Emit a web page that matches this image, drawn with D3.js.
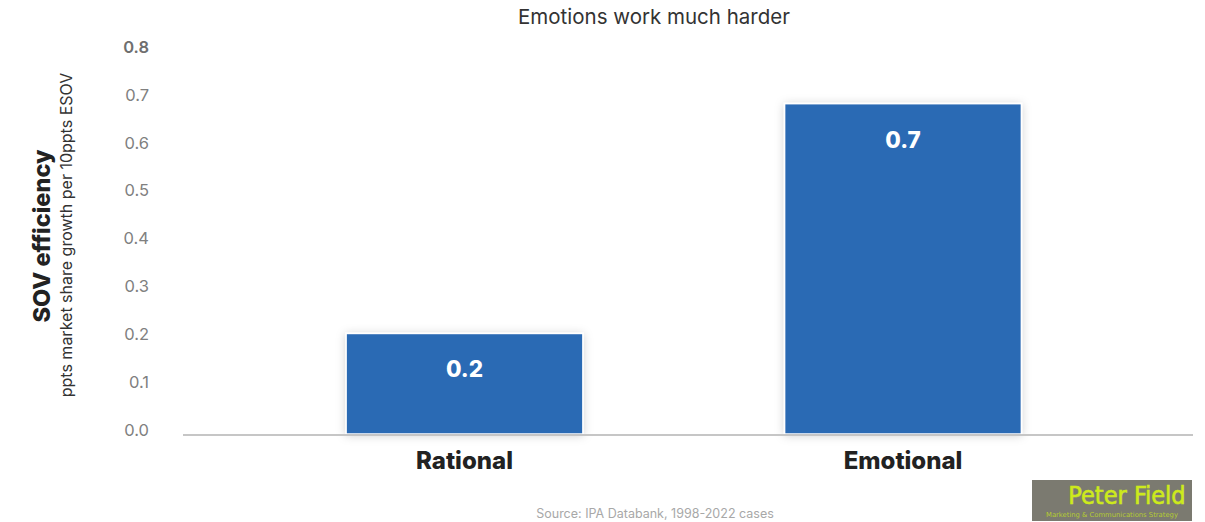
<!DOCTYPE html>
<html>
<head>
<meta charset="utf-8">
<script src="https://cdn.jsdelivr.net/npm/d3@7"></script>
<style>
  html, body { margin: 0; padding: 0; background: #fff; }
  svg { display: block; }
</style>
</head>
<body>
<svg id="chart" width="1205" height="522"></svg>
<script>
// Chart data
const categories = ["Rational", "Emotional"];
const values = [0.21, 0.69];
const yTicks = [0, 0.1, 0.2, 0.3, 0.4, 0.5, 0.6, 0.7, 0.8];

const titleText = "Emotions work much harder";
const yTitle = "SOV efficiency";
const ySubtitle = "ppts market share growth per 10ppts ESOV";
const sourceText = "Source: IPA Databank, 1998-2022 cases";

const svg = d3.select("#chart");
const fontMain = "Inter, 'Open Sans', sans-serif";

// Scales
const y = d3.scaleLinear().domain([0, 0.8]).range([434, 51]);
const x = d3.scaleBand()
  .domain(categories)
  .range([245.25, 1122.25])
  .paddingInner(0.46)
  .paddingOuter(0.23);

// Soft shadow for bars
const defs = svg.append("defs");
const f = defs.append("filter").attr("id", "barShadow")
  .attr("x", "-20%").attr("y", "-20%").attr("width", "140%").attr("height", "140%");
f.append("feDropShadow").attr("dx", 0).attr("dy", 1).attr("stdDeviation", 5)
  .attr("flood-color", "#000").attr("flood-opacity", 0.18);

// Title
svg.append("text")
  .attr("x", 654).attr("y", 24)
  .attr("text-anchor", "middle")
  .attr("font-family", fontMain)
  .attr("font-size", 20.5)
  .attr("fill", "#333")
  .text(titleText);

// Y axis tick labels (no axis line)
const yAxis = d3.axisLeft(y).tickValues(yTicks).tickFormat(d3.format(".1f")).tickSize(0).tickPadding(0);
const gy = svg.append("g").attr("transform", "translate(149,-4)").call(yAxis);
gy.select(".domain").remove();
gy.selectAll("text")
  .attr("font-family", fontMain)
  .attr("font-size", 16.5)
  .attr("fill", "#808080");
gy.selectAll(".tick").filter(d => d === 0.8).select("text")
  .attr("font-weight", 600).attr("fill", "#6f6f6f");

// Y axis titles
svg.append("text")
  .attr("transform", "translate(50,236) rotate(-90)")
  .attr("text-anchor", "middle")
  .attr("font-family", fontMain)
  .attr("font-weight", 800)
  .attr("font-size", 23.5)
  .attr("fill", "#222")
  .text(yTitle);
svg.append("text")
  .attr("transform", "translate(72,235) rotate(-90)")
  .attr("text-anchor", "middle")
  .attr("font-family", fontMain)
  .attr("font-size", 16)
  .attr("fill", "#333")
  .text(ySubtitle);

// Bars
const data = categories.map((c, i) => ({ cat: c, value: values[i] }));
svg.append("g").selectAll("rect")
  .data(data).join("rect")
  .attr("x", d => x(d.cat))
  .attr("y", d => y(d.value))
  .attr("width", x.bandwidth())
  .attr("height", d => y(0) - y(d.value))
  .attr("fill", "#2c6ab4")
  .attr("stroke", "#fff")
  .attr("stroke-width", 1.5)
  .attr("filter", "url(#barShadow)");

// Baseline
svg.append("line")
  .attr("x1", 183).attr("x2", 1193)
  .attr("y1", y(0) + 1).attr("y2", y(0) + 1)
  .attr("stroke", "#c6c6c6").attr("stroke-width", 2);

// Value labels inside bars
svg.append("g").selectAll("text")
  .data(data).join("text")
  .attr("x", d => x(d.cat) + x.bandwidth() / 2)
  .attr("y", d => y(d.value) + 44)
  .attr("text-anchor", "middle")
  .attr("font-family", fontMain)
  .attr("font-weight", 800)
  .attr("font-size", 22.5)
  .attr("fill", "#fff")
  .text(d => d3.format(".1f")(d.value));

// Category labels
const xAxis = d3.axisBottom(x).tickSize(0).tickPadding(0);
const gx = svg.append("g").attr("transform", "translate(0,469)").call(xAxis);
gx.select(".domain").remove();
gx.selectAll("text")
  .attr("dy", 0)
  .attr("font-family", fontMain)
  .attr("font-weight", 800)
  .attr("font-size", 24)
  .attr("fill", "#222");

// Source note
svg.append("text")
  .attr("x", 655).attr("y", 518)
  .attr("text-anchor", "middle")
  .attr("font-family", fontMain)
  .attr("font-size", 12.5)
  .attr("fill", "#a8a8a8")
  .text(sourceText);

// Logo
const logo = svg.append("g").attr("transform", "translate(1032,480)");
logo.append("rect").attr("width", 160).attr("height", 41).attr("fill", "#7b7a70");
logo.append("text")
  .attr("x", 95).attr("y", 24)
  .attr("text-anchor", "middle")
  .attr("font-family", "'DejaVu Sans Condensed', 'DejaVu Sans', sans-serif")
  .attr("font-size", 25)
  .attr("fill", "#cdea1c")
  .attr("stroke", "#cdea1c")
  .attr("stroke-width", 0.6)
  .text("Peter Field");
logo.append("text")
  .attr("x", 80).attr("y", 37)
  .attr("text-anchor", "middle")
  .attr("font-family", "'DejaVu Sans', sans-serif")
  .attr("font-size", 6.8)
  .attr("fill", "#b5cc30")
  .text("Marketing & Communications Strategy");
</script>
</body>
</html>
